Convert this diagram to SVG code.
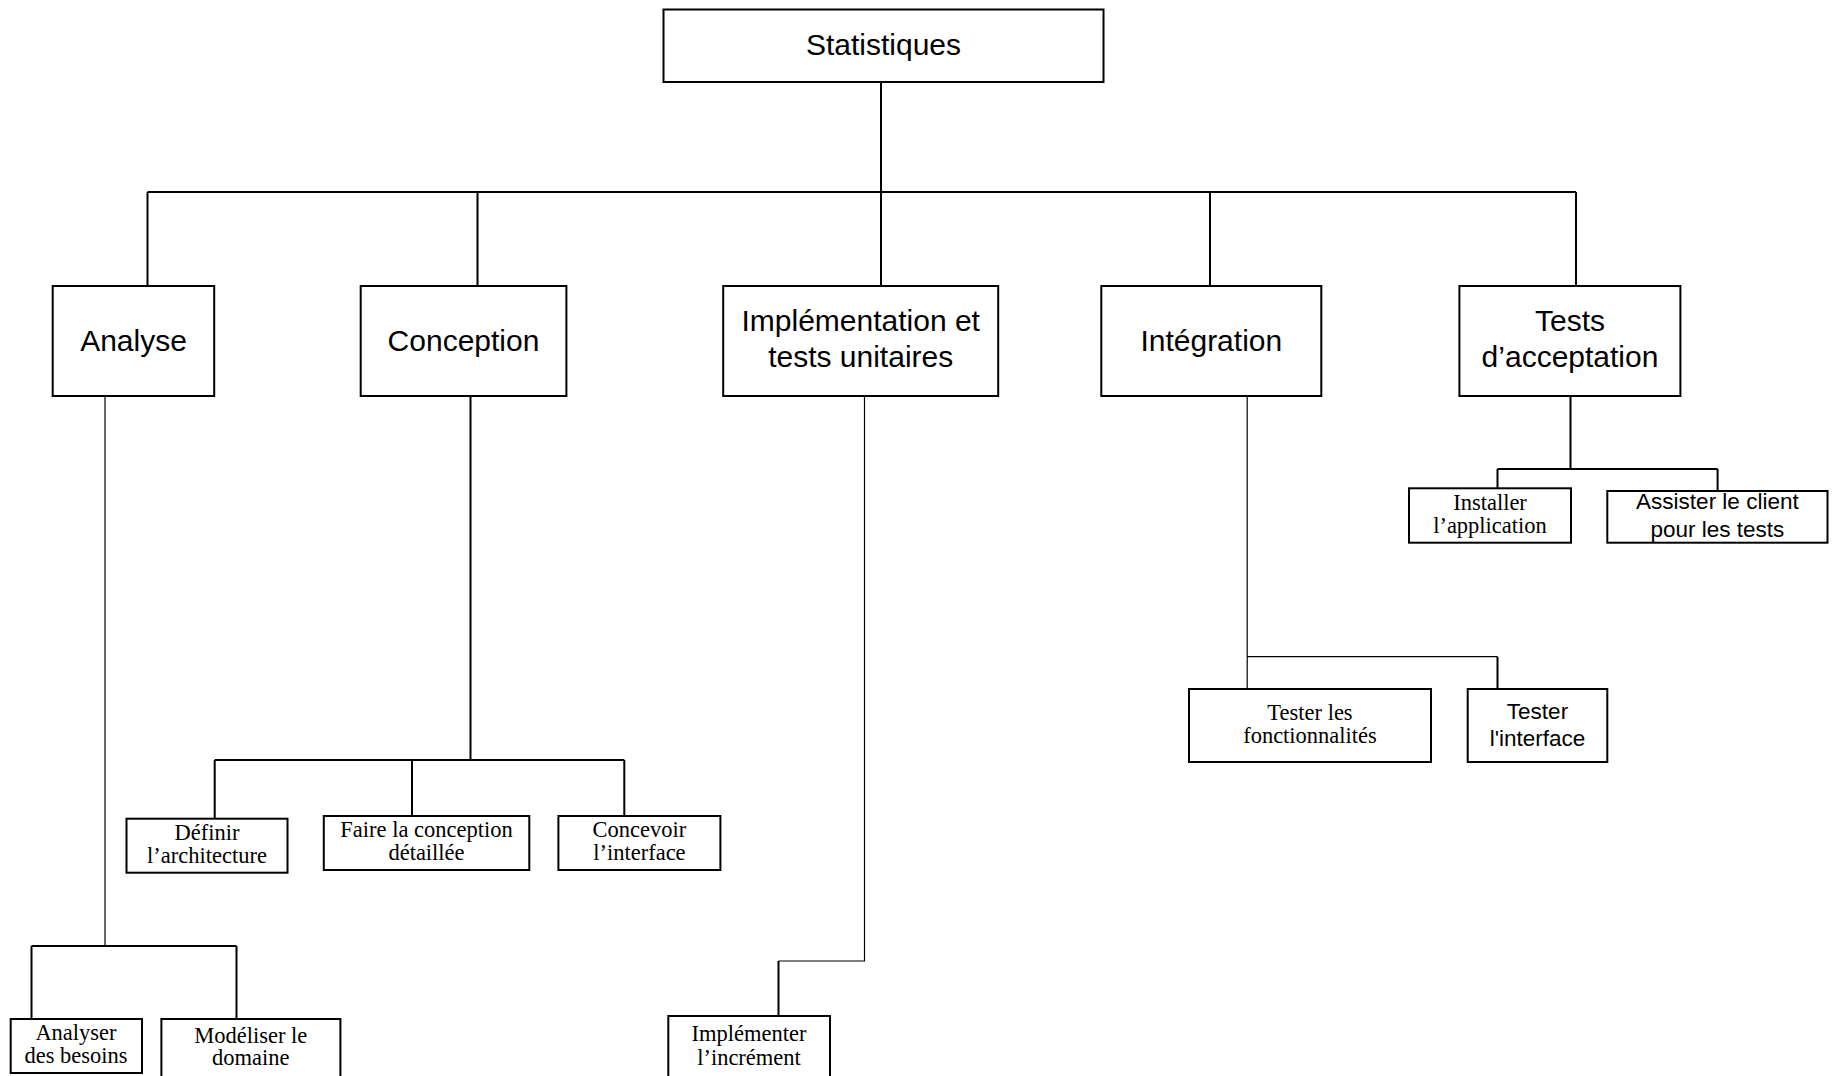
<svg xmlns="http://www.w3.org/2000/svg" width="1835" height="1076" viewBox="0 0 1835 1076">
<style>
.box{fill:#fff;stroke:#000;stroke-width:2}
.c{fill:none;stroke:#000;stroke-width:2}
.t{fill:none;stroke:#000;stroke-width:1.2}
.a{font-family:"Liberation Sans",Arial,sans-serif;text-anchor:middle;fill:#000}
.s{font-family:"Liberation Serif","Times New Roman",serif;text-anchor:middle;fill:#000}
.l1{font-size:30px}
.l2{font-size:22.5px}
</style>
<rect width="1835" height="1076" fill="#fff"/>
<g id="connectors">
<path class="c" d="M881,82V192M147.5,192H1576M147.5,192V286M477.5,192V286M881,192V286M1210,192V286M1576,192V286"/>
<path class="t" d="M105,396V946"/>
<path class="c" d="M31.5,946H236.5M31.5,946V1019M236.5,946V1019"/>
<path class="c" d="M470.5,396V760M214.7,760H624.3M214.7,760V819M412,760V816M624.3,760V816"/>
<path class="t" d="M864.5,396V961H778.5"/>
<path class="c" d="M778.5,961V1016"/>
<path class="t" d="M1247.2,396V689M1247.2,656.7H1497.5"/>
<path class="c" d="M1497.5,656.7V689"/>
<path class="c" d="M1570.5,396V469M1497.5,469H1717.6M1497.5,469V488M1717.6,469V491"/>
</g>
<g id="n-statistiques"><rect class="box" x="663.5" y="9.5" width="440" height="72.5"/><text class="a l1" x="883.5" y="55">Statistiques</text></g>
<g id="n-analyse"><rect class="box" x="52.7" y="286" width="161.5" height="110"/><text class="a l1" x="133.5" y="351">Analyse</text></g>
<g id="n-conception"><rect class="box" x="360.7" y="286" width="205.7" height="110"/><text class="a l1" x="463.5" y="351">Conception</text></g>
<g id="n-implementation"><rect class="box" x="723.2" y="286" width="275" height="110"/><text class="a l1" x="860.7" y="331">Implémentation et</text><text class="a l1" x="860.7" y="367">tests unitaires</text></g>
<g id="n-integration"><rect class="box" x="1101.3" y="286" width="220" height="110"/><text class="a l1" x="1211.3" y="351">Intégration</text></g>
<g id="n-tests"><rect class="box" x="1459.4" y="286" width="221" height="110"/><text class="a l1" x="1570" y="331">Tests</text><text class="a l1" x="1570" y="367">d’acceptation</text></g>
<g id="n-definir"><rect class="box" x="126.5" y="818.7" width="161" height="54"/><text class="s l2" x="207" y="840">Définir</text><text class="s l2" x="207" y="863">l’architecture</text></g>
<g id="n-faire"><rect class="box" x="323.8" y="816" width="205.5" height="54"/><text class="s l2" x="426.5" y="837">Faire la conception</text><text class="s l2" x="426.5" y="860">détaillée</text></g>
<g id="n-concevoir"><rect class="box" x="558.4" y="816" width="162" height="54"/><text class="s l2" x="639.4" y="837">Concevoir</text><text class="s l2" x="639.4" y="860">l’interface</text></g>
<g id="n-analyser"><rect class="box" x="10.7" y="1019" width="131.3" height="54"/><text class="s l2" x="76" y="1040">Analyser</text><text class="s l2" x="76" y="1063">des besoins</text></g>
<g id="n-modeliser"><rect class="box" x="161.4" y="1019" width="179" height="60"/><text class="s l2" x="250.8" y="1043">Modéliser le</text><text class="s l2" x="250.8" y="1065">domaine</text></g>
<g id="n-implementer"><rect class="box" x="668.3" y="1016" width="161.7" height="64"/><text class="s l2" x="749" y="1041">Implémenter</text><text class="s l2" x="749" y="1065">l’incrément</text></g>
<g id="n-tester-fonct"><rect class="box" x="1189" y="689" width="242" height="73"/><text class="s l2" x="1310" y="720">Tester les</text><text class="s l2" x="1310" y="743">fonctionnalités</text></g>
<g id="n-tester-interface"><rect class="box" x="1467.7" y="689" width="139.6" height="73"/><text class="a l2" x="1537.5" y="719">Tester</text><text class="a l2" x="1537.5" y="746">l'interface</text></g>
<g id="n-installer"><rect class="box" x="1409" y="488.3" width="162" height="54.4"/><text class="s l2" x="1490" y="510">Installer</text><text class="s l2" x="1490" y="533">l’application</text></g>
<g id="n-assister"><rect class="box" x="1607.3" y="491" width="220.2" height="51.7"/><text class="a l2" x="1717.4" y="509">Assister le client</text><text class="a l2" x="1717.4" y="537">pour les tests</text></g>
</svg>
